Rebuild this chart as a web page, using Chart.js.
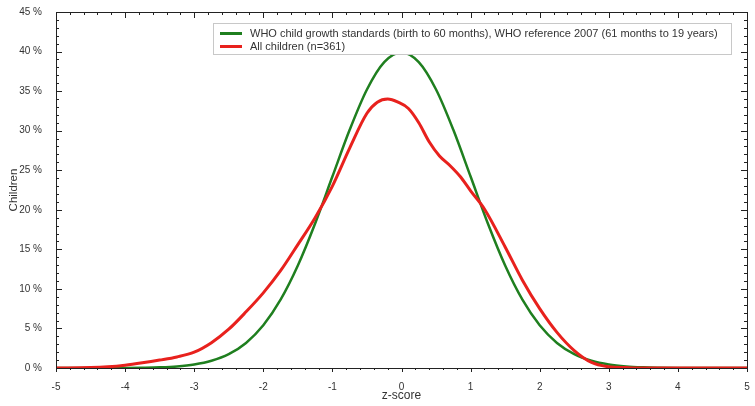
<!DOCTYPE html>
<html>
<head>
<meta charset="utf-8">
<script src="https://cdn.jsdelivr.net/npm/chart.js@4/dist/chart.umd.min.js"></script>
<style>
  html, body { margin: 0; padding: 0; background: #fff; }
  #wrap { width: 755px; height: 406px; }
</style>
</head>
<body>
<div id="wrap"><canvas id="chart"></canvas></div>
<script>
// WHO reference curve (% of children per z-score)
const whoZ = [-5, -4.75, -4.5, -4.25, -4, -3.75, -3.5, -3.25, -3, -2.75, -2.5, -2.25, -2, -1.75, -1.5, -1.25, -1, -0.75, -0.5, -0.25,
    0, 0.25, 0.5, 0.75, 1, 1.25, 1.5, 1.75, 2, 2.25, 2.5, 2.75, 3, 3.25, 3.5, 3.75, 4, 4.25, 4.5, 4.75, 5];
const whoPct = [0, 0, 0, 0, 0.01, 0.04, 0.09, 0.2, 0.44, 0.91, 1.75, 3.17, 5.4, 8.63, 12.95, 18.26, 24.2, 30.11, 35.21, 38.67,
    39.89, 38.67, 35.21, 30.11, 24.2, 18.26, 12.95, 8.63, 5.4, 3.17, 1.75, 0.91, 0.44, 0.2, 0.09, 0.04, 0.01, 0, 0, 0, 0];

// All children sample
const allZ = [-5, -4.5, -4.25, -4, -3.75, -3.5, -3.25, -3, -2.75, -2.5, -2.25, -2, -1.75, -1.5, -1.25, -1, -0.75, -0.5, -0.35, -0.2,
    -0.05, 0.1, 0.25, 0.4, 0.55, 0.7, 0.85, 1, 1.2, 1.5, 1.75, 2, 2.25, 2.5, 2.75, 3, 3.25, 3.5, 5];
const allPct = [0, 0.05, 0.15, 0.35, 0.65, 1.0, 1.4, 2.0, 3.2, 4.9, 7.1, 9.5, 12.3, 15.6, 19.0, 23.0, 27.8, 32.2, 33.6, 34.0,
    33.6, 32.8, 31.0, 28.6, 26.8, 25.6, 24.2, 22.4, 20.1, 15.3, 11.1, 7.5, 4.5, 2.2, 0.7, 0.15, 0.05, 0, 0];

const labels = [
    'WHO child growth standards (birth to 60 months), WHO reference 2007 (61 months to 19 years)',
    'All children (n=361)'
];

const FONT = '"Liberation Sans", Arial, sans-serif';

// frame with inward ticks, like the original plotting package
const framePlugin = {
    id: 'frame',
    afterDatasetsDraw(chart) {
        const { ctx, chartArea: a, scales: { x, y } } = chart;
        ctx.save();
        ctx.strokeStyle = '#222';
        ctx.lineWidth = 1;
        ctx.strokeRect(a.left + 0.5, a.top + 0.5, a.right - a.left, a.bottom - a.top);
        ctx.beginPath();
        for (let v = 0; v <= 45; v++) {
            const py = Math.round(y.getPixelForValue(v)) + 0.5;
            const len = v % 5 === 0 ? 6 : 3;
            ctx.moveTo(a.left, py); ctx.lineTo(a.left + len, py);
            ctx.moveTo(a.right, py); ctx.lineTo(a.right - len, py);
        }
        for (let i = -25; i <= 25; i++) {
            const px = Math.round(x.getPixelForValue(i / 5)) + 0.5;
            const len = i % 5 === 0 ? 6 : 3;
            ctx.moveTo(px, a.top); ctx.lineTo(px, a.top + len);
            ctx.moveTo(px, a.bottom); ctx.lineTo(px, a.bottom + (i % 5 === 0 ? 4 : 2));
        }
        ctx.stroke();
        ctx.restore();
    }
};

// legend box inside the plot
const boxLegend = {
    id: 'boxLegend',
    afterDraw(chart) {
        const { ctx } = chart;
        const left = 213, top = 23, right = 731, bottom = 54;
        ctx.save();
        ctx.fillStyle = '#fff';
        ctx.fillRect(left, top, right - left, bottom - top);
        ctx.strokeStyle = '#c8c8c8';
        ctx.lineWidth = 1;
        ctx.strokeRect(left + 0.5, top + 0.5, right - left, bottom - top);
        ctx.font = '11px ' + FONT;
        ctx.textBaseline = 'middle';
        ctx.textAlign = 'left';
        chart.data.datasets.forEach((ds, i) => {
            const yy = 33.5 + i * 13;
            ctx.strokeStyle = ds.borderColor;
            ctx.lineWidth = 3;
            ctx.beginPath();
            ctx.moveTo(220, yy); ctx.lineTo(242, yy);
            ctx.stroke();
            ctx.fillStyle = '#333';
            ctx.fillText(ds.label, 250, yy);
        });
        ctx.restore();
    }
};

const ctx = document.getElementById('chart').getContext('2d');
const chart = new Chart(ctx, {
    type: 'line',
    data: {
        datasets: [
            {
                label: labels[0],
                data: whoZ.map((z, i) => ({ x: z, y: whoPct[i] })),
                borderColor: '#1f7f1f',
                borderWidth: 2.5,
                pointRadius: 0,
                cubicInterpolationMode: 'monotone',
                order: 1
            },
            {
                label: labels[1],
                data: allZ.map((z, i) => ({ x: z, y: allPct[i] })),
                borderColor: '#e8211d',
                borderWidth: 3,
                pointRadius: 0,
                cubicInterpolationMode: 'monotone',
                order: 0
            }
        ]
    },
    options: {
        responsive: true,
        maintainAspectRatio: false,
        animation: false,
        layout: { padding: { top: 12, right: 8, left: 0, bottom: 0 } },
        plugins: {
            legend: { display: false },
            tooltip: { enabled: false }
        },
        scales: {
            x: {
                type: 'linear',
                min: -5,
                max: 5,
                grid: { display: false },
                border: { display: false },
                ticks: {
                    stepSize: 1,
                    padding: 5,
                    color: '#333',
                    font: { family: FONT, size: 10 }
                },
                title: {
                    display: true,
                    text: 'z-score',
                    color: '#333',
                    font: { family: FONT, size: 12 },
                    padding: { top: 0, bottom: 3 }
                },
                afterFit: s => { s.height = 38; }
            },
            y: {
                min: 0,
                max: 45,
                grid: { display: false },
                border: { display: false },
                ticks: {
                    stepSize: 5,
                    padding: 6,
                    color: '#333',
                    font: { family: FONT, size: 10 },
                    callback: v => v + ' %'
                },
                title: {
                    display: true,
                    text: 'Children',
                    color: '#333',
                    font: { family: FONT, size: 11.5 },
                    padding: { top: 7, bottom: 0 }
                },
                afterFit: s => { s.width = 56; }
            }
        }
    },
    plugins: [framePlugin, boxLegend]
});
</script>
</body>
</html>
